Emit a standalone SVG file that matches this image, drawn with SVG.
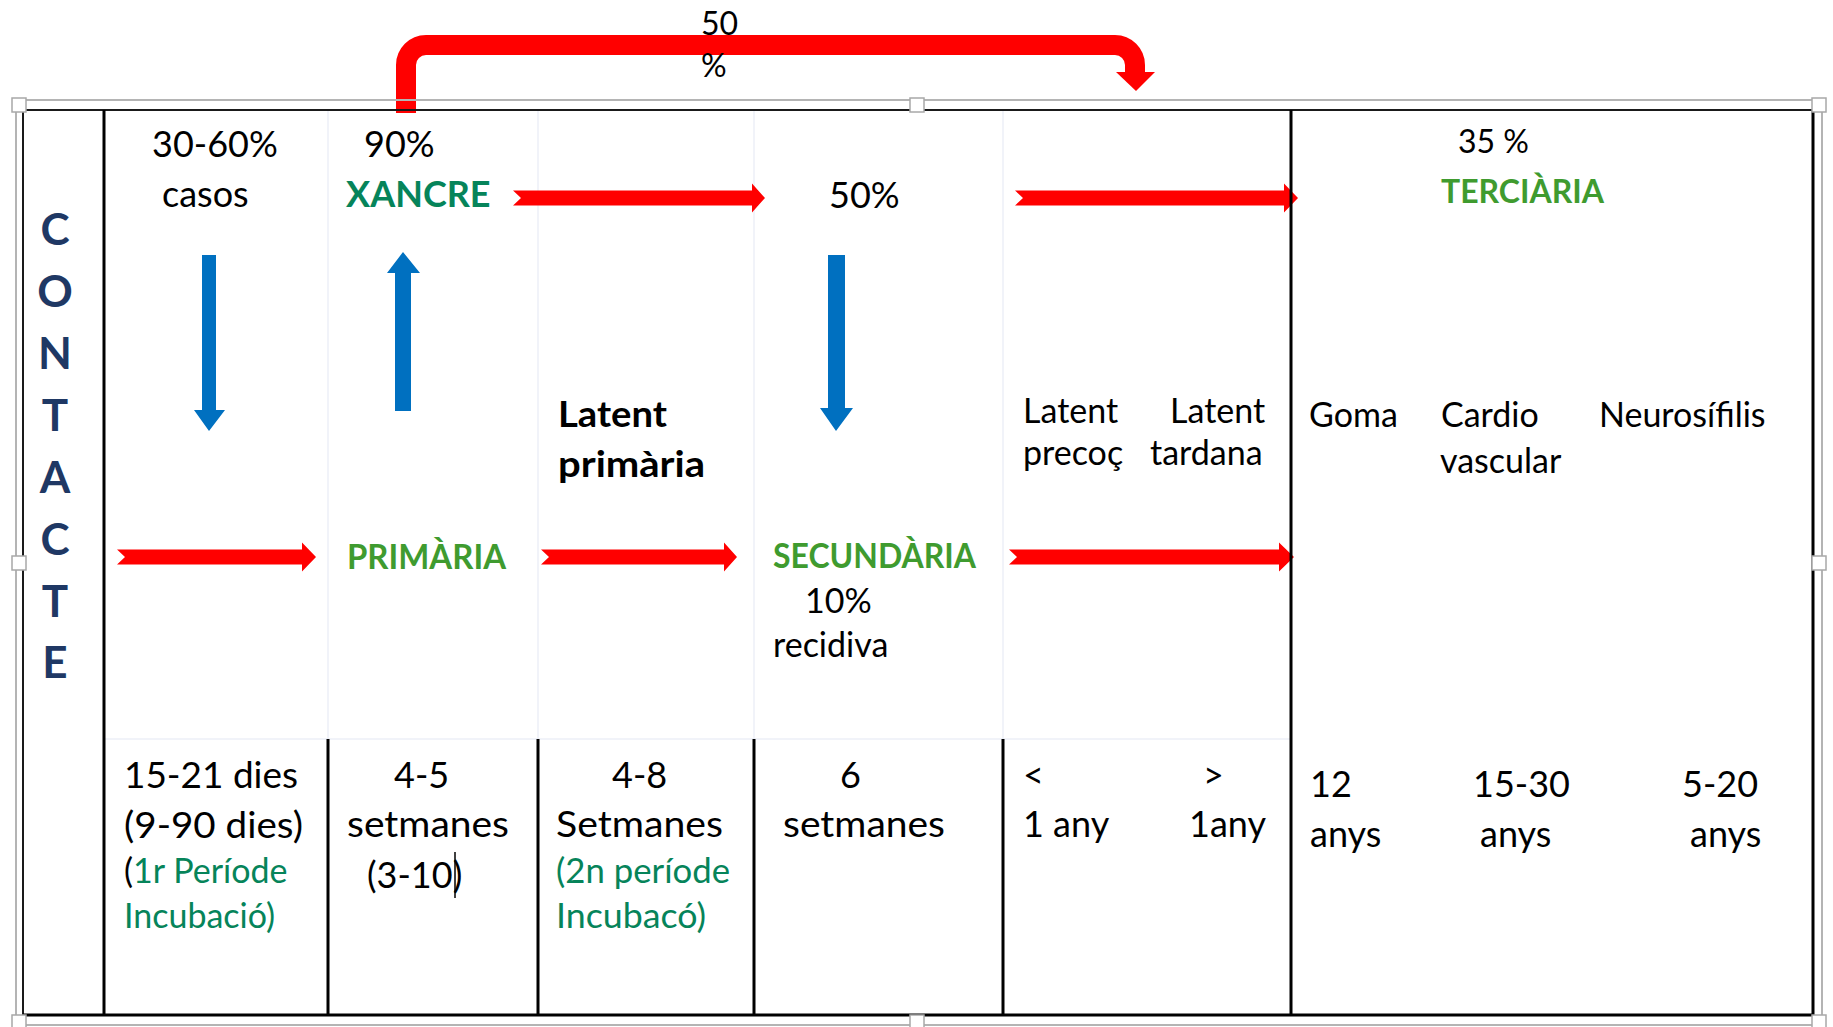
<svg xmlns="http://www.w3.org/2000/svg" width="1833" height="1027" viewBox="0 0 1833 1027">
<style>
text{font-family:Lato,"Open Sans","Liberation Sans",sans-serif;fill:#000;}
.t{font-size:36px;}
.m{font-size:34px;}
.s{font-size:32px;}
.b{font-weight:bold;}
.teal{fill:#06845A;}
.grn{fill:#3F9B2F;font-weight:bold;}
.nav{fill:#1F3864;font-weight:bold;font-size:44px;text-anchor:middle;}
.red{fill:#FF0000;}
.blue{fill:#0070C0;}
.faint{stroke:#EDEFF7;stroke-width:1.5;}
.blk{stroke:#000;stroke-width:3;}
.h{fill:#fff;stroke:#A8A8A8;stroke-width:1.5;}
</style>
<rect width="1833" height="1027" fill="#fff"/>

<g id="grid-faint">
  <line x1="104" y1="739" x2="1291" y2="739" class="faint"/>
  <line x1="328" y1="111" x2="328" y2="739" class="faint"/>
  <line x1="538" y1="111" x2="538" y2="739" class="faint"/>
  <line x1="754" y1="111" x2="754" y2="739" class="faint"/>
  <line x1="1003" y1="111" x2="1003" y2="739" class="faint"/>
</g>

<g id="connectors">
  <path d="M406 113 V65 A20 20 0 0 1 426 45 H1115 A20 20 0 0 1 1135 65 V73" fill="none" stroke="#FF0000" stroke-width="20"/>
  <polygon class="red" points="1116,72 1155,72 1136,91"/>
  <polygon class="red" points="513,190.5 752,190.5 752,183.5 765,198 752,212.5 752,205.5 513,205.5 521,198"/>
  <polygon class="red" points="1015,190.5 1284,190.5 1284,183.5 1298,198 1284,212.5 1284,205.5 1015,205.5 1023,198"/>
  <polygon class="red" points="117,549.5 302,549.5 302,542.5 316,557 302,571.5 302,564.5 117,564.5 125,557"/>
  <polygon class="red" points="541,549.5 724,549.5 724,542.5 737,557 724,571.5 724,564.5 541,564.5 549,557"/>
  <polygon class="red" points="1009,549.5 1279,549.5 1279,542.5 1294,557 1279,571.5 1279,564.5 1009,564.5 1017,557"/>
  <polygon class="blue" points="202,255 216,255 216,410 225,410 209,431 194,410 202,410"/>
  <polygon class="blue" points="403,252 420,273 411,273 411,411 395,411 395,273 387,273"/>
  <polygon class="blue" points="828,255 845,255 845,408 853,408 836,431 820,408 828,408"/>
</g>

<g id="frame">
  <rect x="16" y="100" width="1806" height="925" fill="none" stroke="#B4B4B4" stroke-width="2"/>
  <rect x="23" y="110" width="1790" height="905" fill="none" stroke="#1a1a1a" stroke-width="2"/>
  <line x1="1813" y1="110" x2="1813" y2="1015" class="blk"/>
  <line x1="23" y1="1015" x2="1813" y2="1015" class="blk"/>
  <line x1="104" y1="110" x2="104" y2="1015" class="blk"/>
  <line x1="1291" y1="110" x2="1291" y2="1015" class="blk"/>
  <line x1="328" y1="739" x2="328" y2="1015" class="blk"/>
  <line x1="538" y1="739" x2="538" y2="1015" class="blk"/>
  <line x1="754" y1="739" x2="754" y2="1015" class="blk"/>
  <line x1="1003" y1="739" x2="1003" y2="1015" class="blk"/>
  <rect class="h" x="12" y="98" width="14" height="14"/>
  <rect class="h" x="910" y="98" width="14" height="14"/>
  <rect class="h" x="1812" y="98" width="14" height="14"/>
  <rect class="h" x="12" y="556" width="14" height="14"/>
  <rect class="h" x="1812" y="556" width="14" height="14"/>
  <rect class="h" x="12" y="1015" width="14" height="14"/>
  <rect class="h" x="910" y="1015" width="14" height="14"/>
  <rect class="h" x="1812" y="1015" width="14" height="14"/>
</g>

<g id="label-50">
  <text class="s" x="701" y="35">50</text>
  <text class="s" x="701" y="77">%</text>
</g>

<g id="contacte">
  <text class="nav" x="55" y="245">C</text>
  <text class="nav" x="55" y="307">O</text>
  <text class="nav" x="55" y="369">N</text>
  <text class="nav" x="55" y="431">T</text>
  <text class="nav" x="55" y="493">A</text>
  <text class="nav" x="55" y="555">C</text>
  <text class="nav" x="55" y="617">T</text>
  <text class="nav" x="55" y="678">E</text>
</g>

<g id="col-contacte">
  <text class="t" x="152" y="157">30-60%</text>
  <text class="t" x="162" y="207">casos</text>
  <text class="t" x="124" y="788" textLength="174" lengthAdjust="spacingAndGlyphs">15-21 dies</text>
  <text class="t" x="124" y="838" textLength="179" lengthAdjust="spacingAndGlyphs">(9-90 dies)</text>
  <text class="m" x="124" y="883">(<tspan class="teal">1r Període</tspan></text>
  <text class="m teal" x="124" y="928">Incubació)</text>
</g>

<g id="col-primaria">
  <text class="t" x="364" y="157">90%</text>
  <text class="t b teal" x="346" y="207">XANCRE</text>
  <text class="m grn" x="347" y="569" textLength="159" lengthAdjust="spacingAndGlyphs">PRIMÀRIA</text>
  <text class="t" x="394" y="788">4-5</text>
  <text class="t" x="347" y="837" textLength="162" lengthAdjust="spacingAndGlyphs">setmanes</text>
  <text class="t" x="367" y="888">(3-10)</text>
  <line x1="455" y1="852" x2="455" y2="898" stroke="#000" stroke-width="1.5"/>
</g>

<g id="col-latent-primaria">
  <text class="t b" x="558" y="427" textLength="109" lengthAdjust="spacingAndGlyphs">Latent</text>
  <text class="t b" x="558" y="477" textLength="147" lengthAdjust="spacingAndGlyphs">primària</text>
  <text class="t" x="612" y="788">4-8</text>
  <text class="t" x="556" y="837" textLength="167" lengthAdjust="spacingAndGlyphs">Setmanes</text>
  <text class="m teal" x="556" y="883" textLength="174" lengthAdjust="spacingAndGlyphs">(2n període</text>
  <text class="m teal" x="556" y="928" textLength="150" lengthAdjust="spacingAndGlyphs">Incubacó)</text>
</g>

<g id="col-secundaria">
  <text class="t" x="829" y="208">50%</text>
  <text class="m grn" x="773" y="568" textLength="203" lengthAdjust="spacingAndGlyphs">SECUNDÀRIA</text>
  <text class="m" x="805" y="613">10%</text>
  <text class="m" x="773" y="657">recidiva</text>
  <text class="t" x="840" y="788">6</text>
  <text class="t" x="783" y="837" textLength="162" lengthAdjust="spacingAndGlyphs">setmanes</text>
</g>

<g id="col-latent">
  <text class="m" x="1023" y="423">Latent</text>
  <text class="m" x="1023" y="465">precoç</text>
  <text class="m" x="1170" y="423">Latent</text>
  <text class="m" x="1150" y="465">tardana</text>
  <text class="t" x="1023" y="788">&lt;</text>
  <text class="t" x="1203" y="788">&gt;</text>
  <text class="t" x="1023" y="837">1 any</text>
  <text class="t" x="1189" y="837">1any</text>
</g>

<g id="col-terciaria">
  <text class="s" x="1458" y="153">35 %</text>
  <text class="s grn" x="1441" y="203">TERCIÀRIA</text>
  <text class="m" x="1309" y="427">Goma</text>
  <text class="m" x="1441" y="427">Cardio</text>
  <text class="m" x="1440" y="473">vascular</text>
  <text class="m" x="1599" y="427">Neurosífilis</text>
  <text class="t" x="1310" y="797">12</text>
  <text class="t" x="1310" y="847">anys</text>
  <text class="t" x="1473" y="797">15-30</text>
  <text class="t" x="1480" y="847">anys</text>
  <text class="t" x="1682" y="797">5-20</text>
  <text class="t" x="1690" y="847">anys</text>
</g>
</svg>
